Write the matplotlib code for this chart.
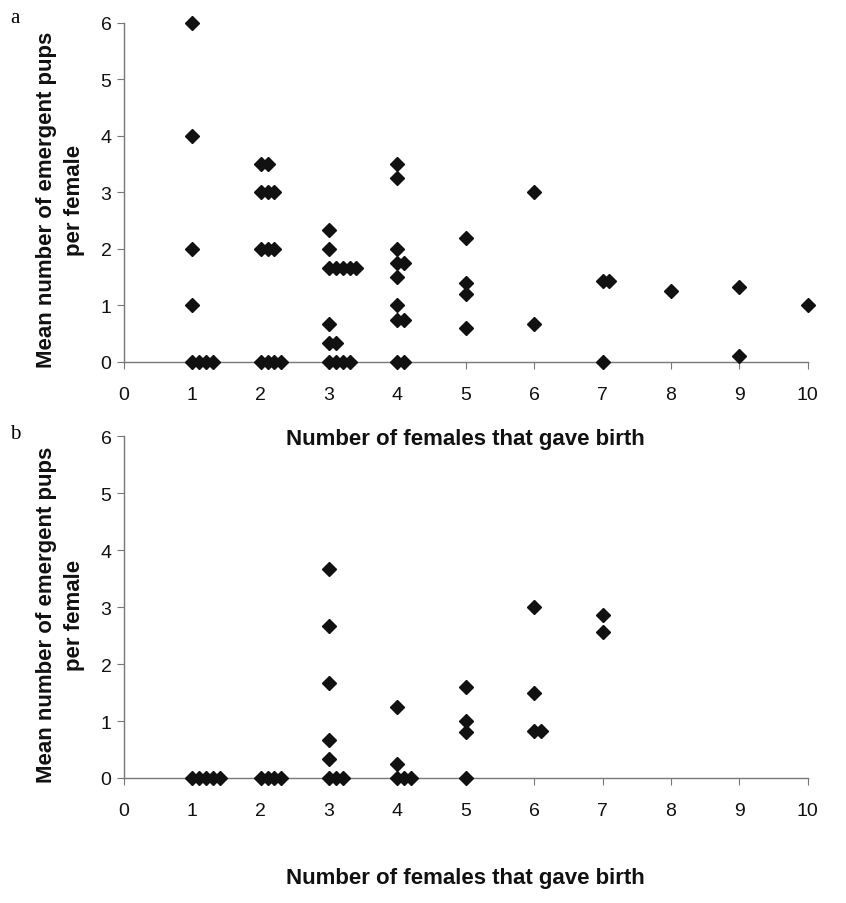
import matplotlib
matplotlib.use("Agg")
import matplotlib.pyplot as plt

plt.rcParams['font.family'] = ['Liberation Sans', 'DejaVu Sans']

# Panel a data
a_x = [1, 1, 1, 1, 1, 1.1, 1.2, 1.3,
       2, 2.1, 2, 2.1, 2.2, 2, 2.1, 2.2, 2, 2.1, 2.2, 2.3,
       3, 3, 3, 3.1, 3.2, 3.3, 3.4, 3, 3, 3.1, 3, 3.1, 3.2, 3.3,
       4, 4, 4, 4, 4.1, 4, 4, 4, 4.1, 4, 4.1,
       5, 5, 5, 5,
       6, 6,
       7, 7.1, 7,
       8,
       9, 9,
       10]
a_y = [6, 4, 2, 1, 0, 0, 0, 0,
       3.5, 3.5, 3, 3, 3, 2, 2, 2, 0, 0, 0, 0,
       2.33, 2, 1.67, 1.67, 1.67, 1.67, 1.67, 0.67, 0.33, 0.33, 0, 0, 0, 0,
       3.5, 3.25, 2, 1.75, 1.75, 1.5, 1, 0.75, 0.75, 0, 0,
       2.2, 1.4, 1.2, 0.6,
       3, 0.67,
       1.43, 1.43, 0,
       1.25,
       1.33, 0.11,
       1]

# Panel b data
b_x = [1, 1.1, 1.2, 1.3, 1.4,
       2, 2.1, 2.2, 2.3,
       3, 3, 3, 3, 3, 3, 3.1, 3.2,
       4, 4, 4, 4.1, 4.2,
       5, 5, 5, 5,
       6, 6, 6, 6.1,
       7, 7]
b_y = [0, 0, 0, 0, 0,
       0, 0, 0, 0,
       3.67, 2.67, 1.67, 0.67, 0.33, 0, 0, 0,
       1.25, 0.25, 0, 0, 0,
       1.6, 1.0, 0.8, 0,
       3.0, 1.5, 0.83, 0.83,
       2.86, 2.57]

x_ticks = list(range(0, 11))
y_ticks = list(range(0, 7))
xlabel = "Number of females that gave birth"
ylabel = "Mean number of emergent pups\nper female"

fig = plt.figure(figsize=(8.46, 9.04), dpi=100)
axa = fig.add_axes([0.1466, 0.5985, 0.808, 0.375])
axb = fig.add_axes([0.1466, 0.1383, 0.808, 0.378])

for ax, xs, ys, lab, xly, laby in [(axa, a_x, a_y, 'a', -0.225, 0.980),
                                   (axb, b_x, b_y, 'b', -0.29, 0.519)]:
    ax.patch.set_visible(False)
    ax.plot(xs, ys, linestyle='none', marker='D', markersize=7.2,
            color='#111111', clip_on=False, zorder=3)
    ax.set_xlim(0, 10)
    ax.set_ylim(0, 6)
    ax.set_xticks(x_ticks)
    ax.set_yticks(y_ticks)
    for s in ['top', 'right']:
        ax.spines[s].set_visible(False)
    for s in ['left', 'bottom']:
        ax.spines[s].set_color('#777777')
        ax.spines[s].set_linewidth(1.0)
    ax.tick_params(axis='y', direction='out', length=5, color='#777777',
                   labelsize=14, pad=4, labelcolor='#111111')
    ax.tick_params(axis='x', direction='out', length=5, color='#777777',
                   labelsize=14, pad=12, labelcolor='#111111')
    ax.set_xlabel(xlabel, fontsize=16, fontweight='bold', color='#111111', va='center')
    ax.xaxis.set_label_coords(0.5, xly)
    ax.set_ylabel(ylabel, fontsize=16, fontweight='bold', color='#111111',
                  va='center', linespacing=1.45)
    ax.yaxis.set_label_coords(-0.093, 0.48)
    fig.text(0.012, laby, lab, fontsize=15,
             family=['Liberation Serif', 'DejaVu Serif'], va='center', ha='left')

fig.savefig("out.png", dpi=100)
